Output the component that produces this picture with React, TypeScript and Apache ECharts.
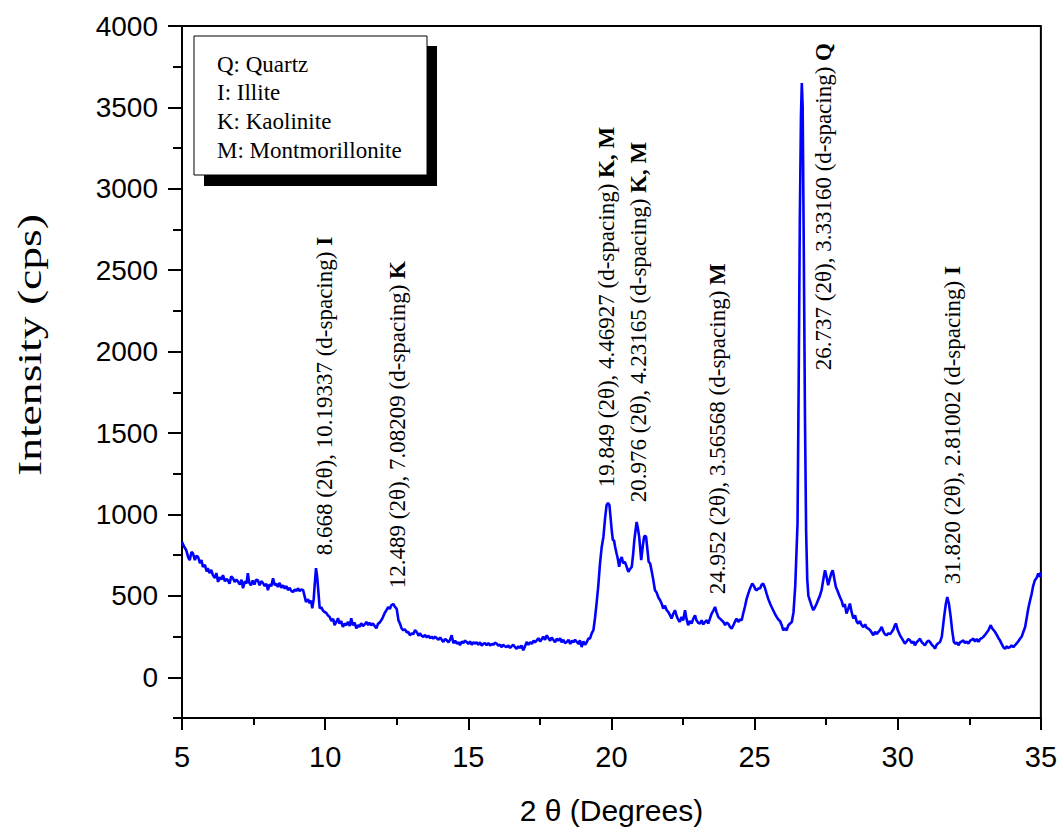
import React, { useEffect, useRef } from "react";
import * as echarts from "echarts";

const twoTheta = [
  5.0, 5.08, 5.15, 5.22, 5.27, 5.33, 5.38, 5.45, 5.5, 5.56, 5.63, 5.68, 5.73, 5.8, 5.86, 5.9, 5.96, 6.02, 6.08, 6.15,
  6.2, 6.26, 6.32, 6.38, 6.43, 6.5, 6.55, 6.6, 6.66, 6.72, 6.78, 6.84, 6.9, 6.96, 7.02, 7.08, 7.13, 7.2, 7.25, 7.3,
  7.35, 7.41, 7.47, 7.53, 7.59, 7.65, 7.71, 7.77, 7.83, 7.89, 7.95, 8.0, 8.06, 8.12, 8.18, 8.24, 8.3, 8.35, 8.41, 8.47,
  8.53, 8.59, 8.65, 8.7, 8.76, 8.82, 8.88, 8.94, 9.0, 9.05, 9.11, 9.17, 9.23, 9.28, 9.33, 9.4, 9.46, 9.51, 9.55, 9.6,
  9.63, 9.68, 9.72, 9.75, 9.81, 9.87, 9.92, 9.98, 10.04, 10.1, 10.16, 10.22, 10.28, 10.33, 10.39, 10.45, 10.5, 10.56, 10.62, 10.68,
  10.74, 10.8, 10.86, 10.91, 10.97, 11.03, 11.09, 11.15, 11.2, 11.26, 11.32, 11.38, 11.44, 11.5, 11.55, 11.61, 11.67, 11.73, 11.79, 11.85,
  11.9, 11.96, 12.02, 12.08, 12.14, 12.2, 12.26, 12.31, 12.38, 12.44, 12.5, 12.56, 12.61, 12.67, 12.73, 12.79, 12.85, 12.9, 12.96, 13.02,
  13.08, 13.14, 13.2, 13.26, 13.31, 13.37, 13.43, 13.49, 13.55, 13.61, 13.67, 13.72, 13.78, 13.84, 13.9, 13.96, 14.02, 14.08, 14.13, 14.19,
  14.25, 14.31, 14.36, 14.42, 14.48, 14.54, 14.6, 14.66, 14.71, 14.77, 14.83, 14.88, 14.94, 15.0, 15.06, 15.12, 15.18, 15.23, 15.29, 15.35,
  15.41, 15.47, 15.52, 15.58, 15.64, 15.7, 15.76, 15.82, 15.88, 15.93, 15.99, 16.05, 16.11, 16.16, 16.22, 16.28, 16.34, 16.4, 16.46, 16.51,
  16.57, 16.63, 16.69, 16.75, 16.8, 16.86, 16.92, 16.98, 17.04, 17.1, 17.16, 17.22, 17.28, 17.33, 17.39, 17.45, 17.51, 17.57, 17.62, 17.68,
  17.74, 17.8, 17.86, 17.91, 17.97, 18.03, 18.09, 18.15, 18.21, 18.26, 18.32, 18.38, 18.44, 18.5, 18.56, 18.62, 18.67, 18.73, 18.79, 18.85,
  18.9, 18.96, 19.02, 19.08, 19.14, 19.2, 19.25, 19.31, 19.37, 19.43, 19.48, 19.54, 19.6, 19.66, 19.72, 19.78, 19.83, 19.88, 19.93, 19.97,
  20.01, 20.05, 20.09, 20.13, 20.18, 20.22, 20.27, 20.31, 20.36, 20.41, 20.47, 20.53, 20.59, 20.65, 20.71, 20.76, 20.8, 20.84, 20.88, 20.92,
  20.97, 21.01, 21.04, 21.09, 21.14, 21.18, 21.21, 21.26, 21.3, 21.35, 21.4, 21.46, 21.52, 21.58, 21.64, 21.7, 21.76, 21.81, 21.87, 21.93,
  21.99, 22.05, 22.1, 22.16, 22.22, 22.28, 22.33, 22.39, 22.45, 22.51, 22.57, 22.62, 22.68, 22.74, 22.8, 22.86, 22.92, 22.97, 23.03, 23.09,
  23.15, 23.21, 23.27, 23.33, 23.38, 23.44, 23.5, 23.56, 23.62, 23.67, 23.73, 23.79, 23.85, 23.91, 23.97, 24.02, 24.08, 24.14, 24.2, 24.26,
  24.31, 24.37, 24.43, 24.49, 24.55, 24.6, 24.66, 24.72, 24.78, 24.84, 24.92, 24.98, 25.03, 25.07, 25.13, 25.19, 25.25, 25.3, 25.36, 25.42,
  25.48, 25.54, 25.6, 25.65, 25.71, 25.77, 25.83, 25.89, 25.95, 26.0, 26.06, 26.12, 26.18, 26.24, 26.3, 26.36, 26.42, 26.47, 26.5, 26.54,
  26.58, 26.62, 26.65, 26.68, 26.72, 26.76, 26.8, 26.84, 26.88, 26.93, 26.99, 27.05, 27.11, 27.17, 27.23, 27.28, 27.34, 27.4, 27.46, 27.51,
  27.57, 27.62, 27.68, 27.73, 27.79, 27.84, 27.9, 27.98, 28.04, 28.1, 28.15, 28.21, 28.27, 28.33, 28.39, 28.45, 28.51, 28.57, 28.62, 28.68,
  28.74, 28.8, 28.86, 28.91, 28.97, 29.03, 29.09, 29.15, 29.21, 29.27, 29.32, 29.38, 29.44, 29.5, 29.55, 29.61, 29.67, 29.73, 29.79, 29.85,
  29.9, 29.94, 30.0, 30.08, 30.14, 30.19, 30.25, 30.31, 30.37, 30.43, 30.49, 30.55, 30.6, 30.66, 30.72, 30.78, 30.84, 30.9, 30.95, 31.01,
  31.07, 31.13, 31.19, 31.25, 31.3, 31.36, 31.42, 31.48, 31.54, 31.62, 31.68, 31.73, 31.79, 31.85, 31.9, 31.96, 32.02, 32.07, 32.12, 32.18,
  32.24, 32.29, 32.35, 32.41, 32.47, 32.53, 32.58, 32.64, 32.7, 32.76, 32.82, 32.88, 32.93, 32.99, 33.05, 33.11, 33.17, 33.22, 33.25, 33.3,
  33.35, 33.4, 33.46, 33.52, 33.57, 33.63, 33.69, 33.75, 33.81, 33.86, 33.92, 33.98, 34.04, 34.1, 34.16, 34.21, 34.27, 34.33, 34.39, 34.45,
  34.5, 34.56, 34.62, 34.68, 34.73, 34.79, 34.85, 34.91, 34.97, 35.0,
];

const intensity = [
  830, 800, 780, 735, 719, 770, 762, 720, 745, 739, 700, 720, 678, 690, 650, 670, 640, 660, 627, 610,
  640, 586, 615, 600, 627, 590, 605, 596, 575, 620, 608, 585, 600, 586, 570, 600, 547, 590, 575, 639,
  580, 565, 595, 570, 600, 596, 565, 590, 578, 560, 575, 535, 570, 560, 608, 565, 575, 555, 580, 550,
  565, 545, 560, 535, 550, 530, 524, 540, 530, 547, 530, 540, 535, 500, 463, 480, 455, 470, 424, 480,
  555, 670, 620, 555, 424, 430, 410, 401, 395, 380, 371, 345, 360, 320, 340, 363, 330, 345, 309, 330,
  320, 340, 315, 363, 320, 335, 301, 320, 310, 332, 315, 325, 340, 320, 335, 320, 330, 315, 301, 330,
  335, 350, 370, 395, 412, 430, 420, 442, 450, 432, 420, 350, 332, 300, 289, 295, 275, 280, 258, 270,
  265, 290, 278, 255, 270, 255, 248, 260, 245, 255, 240, 250, 237, 250, 240, 230, 245, 228, 217, 235,
  227, 215, 230, 258, 209, 225, 207, 215, 197, 220, 210, 225, 217, 205, 220, 200, 215, 207, 215, 200,
  215, 195, 205, 210, 197, 210, 195, 205, 200, 212, 207, 195, 200, 185, 200, 190, 186, 195, 180, 190,
  200, 186, 175, 190, 180, 195, 166, 190, 217, 200, 215, 205, 225, 215, 227, 240, 220, 235, 250, 230,
  258, 240, 225, 245, 230, 215, 237, 225, 240, 215, 230, 210, 217, 230, 205, 225, 215, 230, 217, 205,
  227, 186, 220, 200, 217, 240, 237, 270, 289, 369, 453, 560, 698, 800, 862, 980, 1057, 1070, 1057, 980,
  903, 842, 842, 800, 760, 730, 678, 720, 739, 700, 709, 680, 647, 665, 678, 760, 842, 900, 954, 920,
  862, 780, 719, 800, 862, 870, 862, 780, 709, 700, 657, 600, 535, 520, 490, 473, 450, 422, 440, 412,
  400, 380, 361, 390, 412, 375, 355, 340, 370, 350, 412, 360, 320, 345, 330, 360, 381, 350, 335, 330,
  350, 325, 340, 350, 330, 360, 391, 410, 432, 400, 371, 360, 350, 340, 320, 335, 330, 310, 299, 320,
  340, 361, 340, 355, 350, 390, 432, 480, 514, 545, 576, 560, 540, 535, 545, 545, 570, 576, 550, 514,
  480, 453, 430, 412, 390, 371, 355, 345, 320, 289, 300, 289, 320, 330, 340, 400, 560, 800, 944, 1800,
  2800, 3450, 3650, 3500, 2600, 1600, 900, 600, 500, 473, 440, 412, 430, 453, 480, 500, 535, 600, 657, 620,
  565, 600, 640, 657, 600, 555, 530, 493, 470, 432, 450, 391, 420, 453, 400, 361, 380, 340, 330, 345,
  320, 309, 325, 305, 299, 290, 275, 258, 280, 265, 278, 290, 309, 280, 265, 258, 270, 265, 278, 295,
  320, 330, 290, 258, 240, 225, 207, 220, 235, 227, 210, 220, 197, 215, 225, 237, 215, 205, 197, 215,
  225, 217, 200, 190, 176, 200, 210, 217, 250, 371, 450, 493, 450, 371, 290, 217, 205, 215, 197, 215,
  220, 227, 210, 220, 207, 225, 230, 237, 220, 235, 217, 235, 240, 248, 260, 275, 289, 310, 320, 300,
  290, 278, 260, 240, 227, 205, 185, 176, 190, 180, 186, 195, 185, 197, 210, 220, 237, 250, 280, 309,
  360, 422, 470, 514, 560, 596, 610, 637, 616, 645,
];

const xTickValues = [5, 10, 15, 20, 25, 30, 35];
const yMajorTicks = [0, 500, 1000, 1500, 2000, 2500, 3000, 3500, 4000];
const yMinorTicks = [-250, 250, 750, 1250, 1750, 2250, 2750, 3250, 3750];

const legendLines = ["Q: Quartz", "I: Illite", "K: Kaolinite", "M: Montmorillonite"];

const peakTexts = [
  "8.668 (2θ), 10.19337 (d-spacing) ",
  "12.489 (2θ), 7.08209 (d-spacing) ",
  "19.849 (2θ), 4.46927 (d-spacing) ",
  "20.976 (2θ), 4.23165 (d-spacing) ",
  "24.952 (2θ), 3.56568 (d-spacing) ",
  "26.737 (2θ), 3.33160 (d-spacing) ",
  "31.820 (2θ), 2.81002 (d-spacing) ",
];
const peakPhases = ["I", "K", "K, M", "K, M", "M", "Q", "I"];
// anchor of each label's lower end, in data units (2θ, intensity)
const labelAnchorX = [9.96, 12.51, 19.83, 20.96, 23.72, 27.39, 31.9];
const labelAnchorY = [750, 547, 1167, 1075, 510, 1886, 571];

const SERIF = '"Liberation Serif", "Times New Roman", serif';
const SANS = '"Liberation Sans", Arial, sans-serif';

export default function App() {
  const ref = useRef<HTMLDivElement>(null);

  useEffect(() => {
    if (!ref.current) return;
    const chart = echarts.init(ref.current, null, { renderer: "svg" });
    const data = twoTheta.map((x, i) => [x, intensity[i]]);

    chart.setOption({
      animation: false,
      backgroundColor: "#ffffff",
      textStyle: { fontFamily: SANS },
      grid: {
        left: 182,
        right: 19,
        top: 26,
        bottom: 116,
        show: true,
        borderColor: "#000",
        borderWidth: 2,
        backgroundColor: "transparent",
      },
      xAxis: {
        type: "value",
        min: 5,
        max: 35,
        interval: 5,
        name: "2 θ (Degrees)",
        nameLocation: "middle",
        nameGap: 77,
        nameTextStyle: { fontFamily: SANS, fontSize: 30, color: "#000" },
        axisLine: { show: true, onZero: false, lineStyle: { color: "#000", width: 2 } },
        axisTick: { show: true, length: 12, lineStyle: { color: "#000", width: 2 }, customValues: xTickValues },
        minorTick: { show: true, splitNumber: 2, length: 7, lineStyle: { color: "#000", width: 2 } },
        axisLabel: {
          fontFamily: SANS,
          fontSize: 29,
          color: "#000",
          margin: 24,
          customValues: xTickValues,
          formatter: (v: number) => String(v),
        },
        splitLine: { show: false },
      },
      yAxis: [
        {
          type: "value",
          min: -250,
          max: 4000,
          interval: 250,
          position: "left",
          axisLine: { show: true, onZero: false, lineStyle: { color: "#000", width: 2 } },
          axisTick: { show: true, length: 14, lineStyle: { color: "#000", width: 2 }, customValues: yMajorTicks },
          axisLabel: {
            fontFamily: SANS,
            fontSize: 28,
            color: "#000",
            margin: 24,
            customValues: yMajorTicks,
            formatter: (v: number) => String(v),
          },
          splitLine: { show: false },
        },
        {
          type: "value",
          min: -250,
          max: 4000,
          interval: 250,
          position: "left",
          offset: 0,
          axisLine: { show: false },
          axisTick: { show: true, length: 9, lineStyle: { color: "#000", width: 2 }, customValues: yMinorTicks },
          axisLabel: { show: false },
          splitLine: { show: false },
        },
      ],
      series: [
        {
          type: "line",
          data,
          xAxisIndex: 0,
          yAxisIndex: 0,
          showSymbol: false,
          symbol: "none",
          lineStyle: { color: "#0000ff", width: 2.6 },
          z: 3,
        },
      ],
    });

    const labelGraphics = peakTexts.map((t, i) => {
      const p = chart.convertToPixel({ xAxisIndex: 0, yAxisIndex: 0 }, [labelAnchorX[i], labelAnchorY[i]]) as number[];
      return {
        type: "text",
        x: p[0],
        y: p[1],
        rotation: Math.PI / 2,
        z: 10,
        style: {
          text: `{n|${t}}{b|${peakPhases[i]}}`,
          fontFamily: SERIF,
          fontSize: 23,
          fill: "#000",
          align: "left",
          verticalAlign: "middle",
          rich: {
            n: { fontFamily: SERIF, fontSize: 23, fill: "#000" },
            b: { fontFamily: SERIF, fontSize: 23, fontWeight: "bold", fill: "#000" },
          },
        },
      };
    });

    const legendGraphics: any[] = [
      { type: "rect", shape: { x: 204, y: 46, width: 233, height: 140 }, style: { fill: "#000" }, z: 20 },
      {
        type: "rect",
        shape: { x: 194, y: 36, width: 233, height: 139 },
        style: { fill: "#fff", stroke: "#000", lineWidth: 1 },
        z: 21,
      },
      ...legendLines.map((s, i) => ({
        type: "text",
        x: 217,
        y: 64 + i * 28.7,
        z: 22,
        style: { text: s, fontFamily: SERIF, fontSize: 23, fill: "#000", align: "left", verticalAlign: "middle" },
      })),
    ];

    chart.setOption({
      graphic: [
        {
          type: "text",
          x: 30,
          y: 345,
          rotation: Math.PI / 2,
          scaleX: 1.2,
          scaleY: 0.9,
          z: 10,
          style: {
            text: "Intensity (cps)",
            fontFamily: SERIF,
            fontSize: 38,
            fill: "#000",
            align: "center",
            verticalAlign: "middle",
          },
        },
        ...labelGraphics,
        ...legendGraphics,
      ],
    });

    return () => chart.dispose();
  }, []);

  return <div ref={ref} style={{ position: "fixed", left: 0, top: 0, width: 1060, height: 834 }} />;
}
